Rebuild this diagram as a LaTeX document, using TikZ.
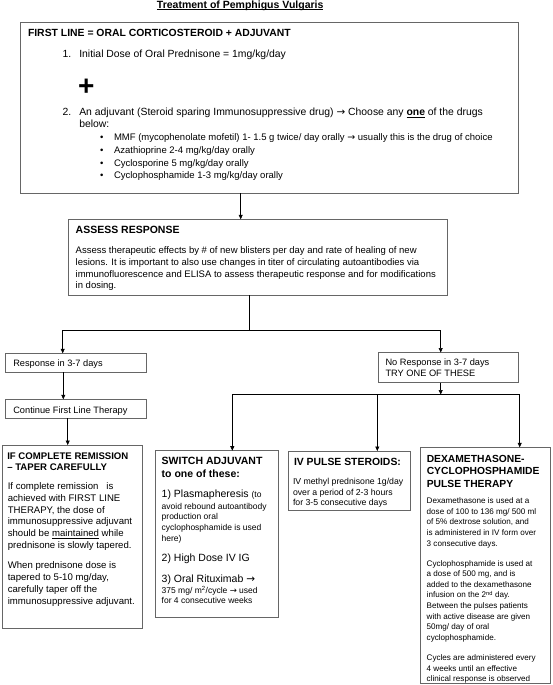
\documentclass[tikz,border=0pt]{standalone}
\usepackage{fontspec}
\setmainfont{Liberation Sans}
\newfontfamily\arrowfont{DejaVu Sans}
\usetikzlibrary{arrows.meta}
\newcommand{\myarr}{{\arrowfont →}}
\newcommand{\lns}[1]{\begin{tabular}[t]{@{}l@{}}#1\end{tabular}}
\newcommand{\fs}[2]{\fontsize{#1}{#2}\selectfont}
\tikzset{
  box/.style={draw=black!60, line width=0.9pt, anchor=north west, inner sep=0pt, outer sep=0pt},
  txt/.style={anchor=base west, inner sep=0pt, outer sep=0pt},
  conn/.style={line width=0.6pt, draw=black},
  arr/.style={conn, -{Triangle[length=4.5pt,width=4pt]}},
}
\begin{document}
\begin{tikzpicture}[x=1pt,y=-1pt]
\useasboundingbox (0,0) rectangle (553,685);
\fill[white] (0,0) rectangle (553,685);

% title
\node[txt, anchor=base, font=\bfseries\fs{10.5}{12}] (title) at (240.2,8.3) {Treatment of Pemphigus Vulgaris};
\draw[line width=0.7pt] ([yshift=-1.4pt]title.base west) -- ([yshift=-1.4pt]title.base east);

% box 1
\node[box, minimum width=498pt, minimum height=170.3pt] (b1) at (20.7,22.7) {};
\node[txt, font=\bfseries\fs{10.4}{12}] (b1t) at (28,36.4) {FIRST LINE = ORAL CORTICOSTEROID + ADJUVANT};
\node[txt, font=\fs{10.4}{11.6}] (n1) at (62.7,57) {1.};
\node[txt, font=\fs{10.4}{11.6}] (i1) at (79.3,57) {Initial Dose of Oral Prednisone = 1mg/kg/day};
\node[txt, font=\bfseries\fs{28}{30}] (plus) at (78.2,95.3) {+};
\node[txt, font=\fs{10.4}{11.6}] (n2) at (62.7,115.4) {2.};
\node[txt, font=\fs{10.4}{11.6}] (i2) at (79.3,115.4) {\lns{An adjuvant (Steroid sparing Immunosuppressive drug) \myarr{} Choose any \underline{\textbf{one}} of the drugs\\below:}};
\node[txt, font=\fs{9.5}{12.67}] (bul) at (100,140.7) {\lns{\textbullet\\\textbullet\\\textbullet\\\textbullet}};
\node[txt, font=\fs{9.5}{12.67}] (drugs) at (114,140.7) {\lns{MMF (mycophenolate mofetil) 1- 1.5 g twice/ day orally \myarr{} usually this is the drug of choice\\Azathioprine 2-4 mg/kg/day orally\\Cyclosporine 5 mg/kg/day orally\\Cyclophosphamide 1-3 mg/kg/day orally}};

% box 2
\node[box, minimum width=379.4pt, minimum height=75.7pt] (b2) at (68.3,219.3) {};
\node[txt, font=\bfseries\fs{10.5}{12}] (b2t) at (75.7,233.1) {ASSESS RESPONSE};
\node[txt, font=\fs{9.5}{11.8}] (b2p) at (75.7,253.4) {\lns{Assess therapeutic effects by \# of new blisters per day and rate of healing of new\\lesions. It is important to also use changes in titer of circulating autoantibodies via\\immunofluorescence and ELISA to assess therapeutic response and for modifications\\in dosing.}};

% left branch
\node[box, minimum width=141.7pt, minimum height=19pt] (resp) at (5,353.3) {};
\node[txt, font=\fs{9.25}{11}] (respt) at (13.3,366.6) {Response in 3-7 days};
\node[box, minimum width=141.7pt, minimum height=19pt] (cont) at (5,399.3) {};
\node[txt, font=\fs{9.25}{11}] (contt) at (13.3,413.3) {Continue First Line Therapy};
\node[box, minimum width=140.7pt, minimum height=183pt] (ifb) at (2,445) {};
\node[txt, font=\bfseries\fs{9.6}{10.8}] (ift) at (7.3,459.9) {\lns{IF COMPLETE REMISSION\\– TAPER CAREFULLY}};
\node[txt, font=\fs{9.6}{11.8}] (ifp) at (7.8,489.5) {\lns{If complete remission\ \ \ is\\achieved with FIRST LINE\\THERAPY, the dose of\\immunosuppressive adjuvant\\should be \underline{maintained} while\\prednisone is slowly tapered.\\[8.5pt]When prednisone dose is\\tapered to 5-10 mg/day,\\carefully taper off the\\immunosuppressive adjuvant.}};

% right branch
\node[box, minimum width=140pt, minimum height=30.2pt] (nores) at (378.5,352.5) {};
\node[txt, font=\fs{9.25}{11.2}] (norest) at (385.5,365) {\lns{No Response in 3-7 days\\TRY ONE OF THESE}};

\node[box, minimum width=123.3pt, minimum height=166.3pt] (sw) at (155,450.7) {};
\node[txt, font=\bfseries\fs{10.5}{13}] (swt) at (161.7,464.3) {\lns{SWITCH ADJUVANT\\to one of these:}};
\node[txt, font=\fs{10.5}{12}] (sw1a) at (161.7,497.9) {1) Plasmapheresis {\fs{8.5}{10}(to}};
\node[txt, font=\fs{8.5}{10.75}] (sw1b) at (161.7,509.1) {\lns{avoid rebound autoantibody\\production oral\\cyclophosphamide is used\\here)}};
\node[txt, font=\fs{10.5}{12}] (sw2) at (161.7,561.5) {2) High Dose IV IG};
\node[txt, font=\fs{10.5}{12}] (sw3a) at (161.7,582.1) {3) Oral Rituximab \myarr};
\node[txt, font=\fs{8.5}{10.7}] (sw3b) at (161.7,593.1) {\lns{375 mg/ m\textsuperscript{2}/cycle \myarr{} used\\for 4 consecutive weeks}};

\node[box, minimum width=122pt, minimum height=59pt] (iv) at (288.5,451) {};
\node[txt, font=\bfseries\fs{10.4}{12}] (ivt) at (294,465.5) {IV PULSE STEROIDS:};
\node[txt, font=\fs{8.7}{10.5}] (ivp) at (293,484.8) {\lns{IV methyl prednisone 1g/day\\over a period of 2-3 hours\\for 3-5 consecutive days}};

\node[box, minimum width=129.5pt, minimum height=235.7pt] (dx) at (420.5,447.3) {};
\node[txt, font=\bfseries\fs{10.3}{12.5}] (dxt) at (426.8,462.2) {\lns{DEXAMETHASONE-\\CYCLOPHOSPHAMIDE\\PULSE THERAPY}};
\node[txt, font=\fs{8.1}{10.6}] (dxp) at (426.7,503.6) {\lns{Dexamethasone is used at a\\dose of 100 to 136 mg/ 500 ml\\of 5\% dextrose solution, and\\is administered in IV form over\\3 consecutive days.\\[9.5pt]Cyclophosphamide is used at\\a dose of 500 mg, and is\\added to the dexamethasone\\infusion on the 2\textsuperscript{nd} day.\\Between the pulses patients\\with active disease are given\\50mg/ day of oral\\cyclophosphamide.\\[9.5pt]Cycles are administered every\\4 weeks until an effective\\clinical response is observed}};

% connectors
\coordinate (c1) at (240.7,0);
\draw[arr] (c1 |- b1.south) -- (c1 |- b2.north);
\coordinate (j1) at (249.3,330);
\coordinate (jL) at (62.7,330);
\coordinate (jR) at (440.7,330);
\draw[conn] (j1 |- b2.south) -- (j1);
\draw[arr] (j1) -- (jL) -- (jL |- resp.north);
\draw[arr] (j1) -- (jR) -- (jR |- nores.north);
\coordinate (c3) at (63.3,0);
\draw[arr] (c3 |- resp.south) -- (c3 |- cont.north);
\coordinate (c4) at (67.7,0);
\draw[arr] (c4 |- cont.south) -- (c4 |- ifb.north);
\coordinate (j2) at (440.7,394.5);
\draw[arr] (jR |- nores.south) -- (j2);
\coordinate (kL) at (232.3,394.5);
\coordinate (kM) at (377.3,394.5);
\coordinate (kR) at (519.7,394.5);
\draw[conn] (kL) -- (kR);
\draw[arr] (kL) -- (kL |- sw.north);
\draw[arr] (kM) -- (kM |- iv.north);
\draw[arr] (kR) -- (kR |- dx.north);
\end{tikzpicture}
\end{document}
